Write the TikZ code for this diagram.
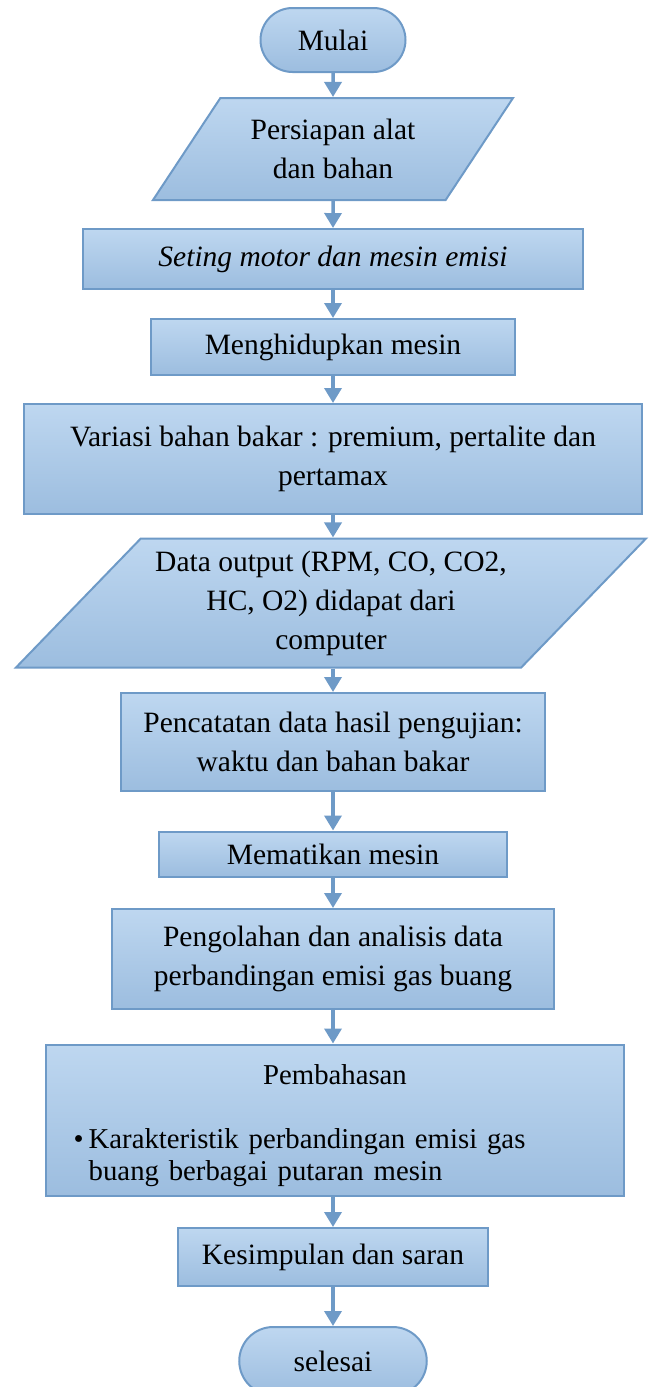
\documentclass[tikz,border=0pt]{standalone}
\usepackage{fontspec}
\setmainfont{Liberation Serif}
\usepackage{tikz}
\usetikzlibrary{shapes.geometric,shapes.misc,arrows.meta,positioning}
\definecolor{edgeblue}{RGB}{110,154,199}
\definecolor{filltop}{RGB}{190,215,240}
\definecolor{fillbot}{RGB}{156,189,223}

\begin{document}
\begin{tikzpicture}[x=0.4pt,y=-0.4pt,
        flow/.style={draw=edgeblue,line width=0.8pt,top color=filltop,bottom color=fillbot,inner sep=2pt,font=\fontsize{11.8}{15.6}\selectfont},
        procbox/.style={flow,rectangle,align=center},
        iobox/.style={flow,trapezium,trapezium stretches body,align=center},
        termbox/.style={flow,rounded rectangle},
        arr/.style={edgeblue,line width=1.4pt,-{Triangle[width=6.8pt,length=6pt]}}]
        \useasboundingbox (0,0) rectangle (651,1387);
        \node[termbox,minimum width=62pt,minimum height=25.6pt] (mulai) at (333,40) {Mulai};
        \node[iobox,trapezium left angle=46,trapezium right angle=134,minimum width=144pt,minimum height=40.8pt] (persiapan) at (333,149)
        {Persiapan alat\\dan bahan};
        \node[procbox,minimum width=200pt,minimum height=24pt] (seting) at (333,259) {\textit{Seting motor dan mesin emisi}};
        \node[procbox,minimum width=145.2pt,minimum height=22.4pt] (hidup) at (333,347) {Menghidupkan mesin};
        \node[procbox,minimum width=247.2pt,minimum height=44pt] (variasi) at (333,459)
        {Variasi bahan bakar : premium, pertalite dan\\pertamax};
        \node[iobox,trapezium left angle=42.6,trapezium right angle=137.4,minimum width=252pt,minimum height=51.6pt] (data) at (331,603)
        {Data output (RPM, CO, CO2,\\HC, O2) didapat dari\\computer};
        \node[procbox,minimum width=169.6pt,minimum height=39.2pt] (catat) at (333,742)
        {Pencatatan data hasil pengujian:\\waktu dan bahan bakar};
        \node[procbox,minimum width=138.8pt,minimum height=18pt] (mati) at (333,854) {Mematikan mesin};
        \node[procbox,minimum width=176.8pt,minimum height=40pt] (olah) at (333,959)
        {Pengolahan dan analisis data\\perbandingan emisi gas buang};
        \node[flow,rectangle,text width=209pt,inner xsep=11pt,minimum height=60.4pt] (bahas) at (335,1120)
        {\fontsize{11.5}{12.8}\selectfont\centering\rule{0pt}{12.2pt}Pembahasan\par\vspace{12.8pt}\raggedright\hangindent=6pt\hangafter=1
            \noindent\makebox[6pt][l]{\textbullet}Karakteristik perbandingan emisi gas\newline buang berbagai putaran mesin\par};
        \node[procbox,minimum width=124pt,minimum height=23.2pt] (simpul) at (333,1257) {Kesimpulan dan saran};
        \node[termbox,minimum width=79pt,minimum height=27.2pt] (selesai) at (333,1361) {selesai};
        \draw[arr] (mulai.south) -- (persiapan.north);
        \draw[arr] (persiapan.south) -- (seting.north);
        \draw[arr] (seting.south) -- (hidup.north);
        \draw[arr] (hidup.south) -- (variasi.north);
        \draw[arr] (variasi.south) -- (variasi.south |- data.north);
        \draw[arr] (catat.north |- data.south) -- (catat.north);
        \draw[arr] (catat.south) -- (mati.north);
        \draw[arr] (mati.south) -- (olah.north);
        \draw[arr] (olah.south) -- (olah.south |- bahas.north);
        \draw[arr] (simpul.north |- bahas.south) -- (simpul.north);
        \draw[arr] (simpul.south) -- (selesai.north);
    \end{tikzpicture}
\end{document}
